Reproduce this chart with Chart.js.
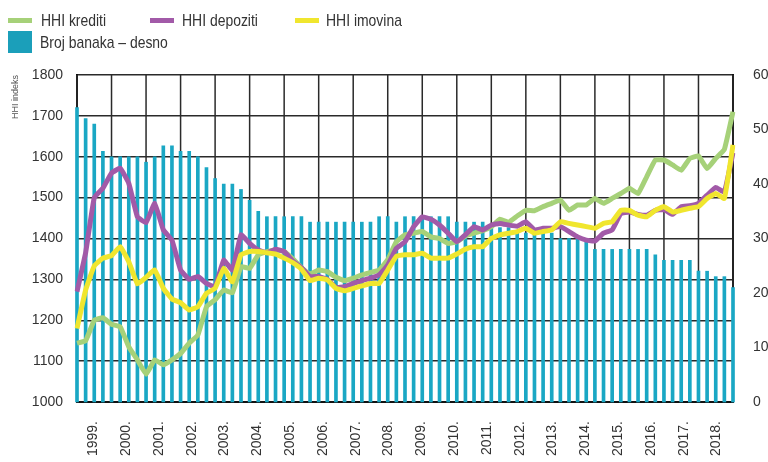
<!DOCTYPE html>
<html><head><meta charset="utf-8">
<script src="https://cdn.jsdelivr.net/npm/chart.js@4.4.1/dist/chart.umd.min.js"></script>
<style>
html,body{margin:0;padding:0;background:#fff;}
body{width:768px;height:462px;overflow:hidden;position:relative;font-family:'Liberation Sans',Arial,sans-serif;}
#wrap{position:absolute;left:0;top:0;width:800px;height:462px;}
.lg{position:absolute;font-size:17px;color:#333;line-height:18px;white-space:nowrap;z-index:2;transform:scaleX(0.82);transform-origin:0 0;}
.sw{position:absolute;height:5px;width:24px;z-index:2;}
</style></head>
<body>
<div id="wrap"><canvas id="c" width="800" height="462"></canvas></div>
<div class="sw" style="left:8px;top:18px;background:#a6d179"></div>
<div class="lg" style="left:41px;top:12px">HHI krediti</div>
<div class="sw" style="left:150px;top:18px;background:#a25aa8"></div>
<div class="lg" style="left:182px;top:12px">HHI depoziti</div>
<div class="sw" style="left:295px;top:18px;background:#f0e62e"></div>
<div class="lg" style="left:326px;top:12px">HHI imovina</div>
<div class="sw" style="left:8px;top:31px;height:22px;background:#1b9fba"></div>
<div class="lg" style="left:40px;top:34px">Broj banaka – desno</div>
<script>
// Year tick labels (bottom axis)
const yearLabels = ["1999.","2000.","2001.","2002.","2003.","2004.","2005.","2006.","2007.","2008.","2009.","2010.","2011.","2012.","2013.","2014.","2015.","2016.","2017.","2018."];

// Quarterly categories (77 quarters)
const quarters = [];
for (let y = 1999, q = 4; quarters.length < 77; ) {
  quarters.push("Q" + q + " " + y);
  q++; if (q > 4) { q = 1; y++; }
}

// HHI krediti (left axis)
const hhiKrediti = [1144,1150,1200,1206,1190,1184,1135,1103,1068,1103,1091,1103,1119,1144,1164,1233,1250,1274,1267,1331,
  1327,1360,1368,1372,1368,1350,1329,1313,1323,1319,1305,1297,1303,1311,1317,1323,1348,1392,1409,1413,
  1417,1404,1400,1388,1392,1406,1413,1419,1429,1447,1440,1455,1469,1468,1478,1486,1494,1469,1482,1482,
  1498,1486,1498,1510,1523,1510,1551,1592,1592,1580,1567,1596,1602,1571,1596,1618,1710];

// HHI depoziti (left axis)
const hhiDepoziti = [1270,1365,1500,1523,1560,1572,1535,1453,1439,1486,1421,1396,1323,1300,1307,1290,1282,1347,1323,1409,
  1388,1372,1365,1374,1368,1345,1329,1307,1307,1300,1280,1282,1290,1297,1303,1311,1335,1376,1392,1429,
  1453,1447,1433,1413,1392,1409,1429,1421,1433,1437,1433,1430,1441,1421,1425,1425,1429,1417,1404,1396,
  1394,1413,1421,1461,1465,1459,1457,1469,1471,1459,1478,1480,1486,1506,1525,1514,1610];

// HHI imovina (left axis)
const hhiImovina = [1180,1274,1333,1352,1358,1380,1343,1289,1305,1323,1278,1252,1243,1225,1233,1266,1278,1327,1294,1360,
  1368,1368,1365,1362,1352,1341,1325,1297,1303,1299,1278,1272,1278,1284,1290,1290,1323,1356,1360,1360,
  1364,1352,1352,1352,1362,1374,1380,1380,1400,1409,1413,1417,1425,1413,1417,1421,1441,1437,1433,1429,
  1425,1437,1441,1469,1469,1457,1453,1469,1478,1465,1469,1474,1478,1498,1510,1498,1629];

// Broj banaka (right axis)
const brojBanaka = [54,52,51,46,45,45,45,45,44,45,47,47,46,46,45,43,41,40,40,39,37,35,34,34,34,34,
  34,33,33,33,33,33,33,33,33,34,34,33,34,34,34,34,34,34,33,33,33,33,32,32,32,31,31,31,31,31,
  30,30,30,30,28,28,28,28,28,28,28,27,26,26,26,26,24,24,23,23,21];

const sans = "'Liberation Sans',Arial,sans-serif";

// vertical year grid lines, placed through the x scale every 4 quarters
const yearGrid = {
  id: 'yearGrid',
  beforeDatasetsDraw(chart) {
    const xs = chart.scales.x, area = chart.chartArea, ctx = chart.ctx;
    ctx.save();
    ctx.strokeStyle = '#2a2a2a';
    ctx.lineWidth = 1.5;
    for (let i = 0; i < quarters.length; i += 4) {
      const px = xs.getPixelForValue(i);
      ctx.beginPath();
      ctx.moveTo(px, area.top);
      ctx.lineTo(px, area.bottom);
      ctx.stroke();
    }
    ctx.restore();
  }
};

new Chart(document.getElementById('c'), {
  type: 'bar',
  data: {
    labels: quarters,
    datasets: [
      {type:'line', label:'HHI krediti', data:hhiKrediti, borderColor:'#a6d179', borderWidth:5, pointRadius:0, tension:0.1, yAxisID:'y', xAxisID:'x', order:3, borderJoinStyle:'round'},
      {type:'line', label:'HHI depoziti', data:hhiDepoziti, borderColor:'#a25aa8', borderWidth:5, pointRadius:0, tension:0.1, yAxisID:'y', xAxisID:'x', order:2, borderJoinStyle:'round'},
      {type:'line', label:'HHI imovina', data:hhiImovina, borderColor:'#f0e62e', borderWidth:5, pointRadius:0, tension:0.1, yAxisID:'y', xAxisID:'x', order:1, borderJoinStyle:'round'},
      {type:'bar', label:'Broj banaka – desno', data:brojBanaka, backgroundColor:'#1aa7c4', barThickness:3, yAxisID:'y1', xAxisID:'x', order:4, clip:false}
    ]
  },
  plugins: [yearGrid],
  options: {
    responsive:false, animation:false, devicePixelRatio:1,
    layout:{padding:{top:75,left:0,right:0,bottom:0}},
    plugins:{legend:{display:false}, tooltip:{enabled:false}},
    scales:{
      x:{type:'category', offset:false, position:'bottom', weight:0,
        grid:{display:false, offset:false, drawTicks:false},
        border:{display:true, color:'#111', width:2},
        ticks:{display:false, autoSkip:false},
        afterFit:(s)=>{ s.height = 0; }},
      years:{type:'category', labels:yearLabels, offset:true, position:'bottom', weight:1,
        grid:{display:false, drawTicks:false}, border:{display:false},
        ticks:{autoSkip:false, minRotation:90, maxRotation:90, padding:19, color:'#333', font:{family:sans, size:14}},
        afterFit:(s)=>{ s.height = 60; }},
      y:{position:'left', min:1000, max:1800,
        ticks:{stepSize:100, padding:14, color:'#333', font:{family:sans, size:14}, callback:(v)=>String(v)},
        grid:{drawTicks:false, color:'#2a2a2a', lineWidth:1.5},
        border:{color:'#111', width:2},
        title:{display:true, text:'HHI indeks', align:'end', color:'#555', font:{family:sans, size:9}, padding:{top:10, bottom:0}},
        afterFit:(s)=>{ s.width = 77; }},
      y1:{position:'right', min:0, max:60,
        ticks:{stepSize:10, padding:20, color:'#333', font:{family:sans, size:14}, callback:(v)=>String(v)},
        grid:{display:false, drawTicks:false},
        border:{color:'#111', width:2},
        afterFit:(s)=>{ s.width = 67; }}
    }
  }
});
</script>
</body></html>
